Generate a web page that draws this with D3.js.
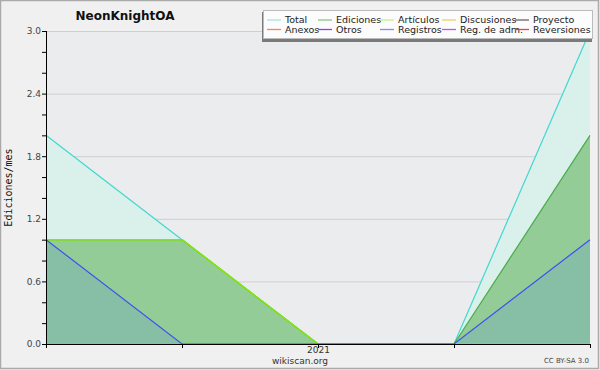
<!DOCTYPE html>
<html>
<head>
<meta charset="utf-8">
<script src="https://d3js.org/d3.v7.min.js"></script>
<style>
body { margin: 0; background: #fff; }
text { font-family: "DejaVu Sans", sans-serif; }
</style>
</head>
<body>
<svg id="chart" width="600" height="370"></svg>
<script>
// months around 2021, only the middle one gets a label
var months = ["2020-11", "2020-12", "2021-01", "2021-02", "2021-03"];
var tickLabels = ["", "", "2021", "", ""];
var total = [2, 1, 0, 0, 3];
var ediciones = [1, 1, 0, 0, 2];
var articulos = [1, 1, 0, 0, 0];
var registros = [1, 0, 0, 0, 1];
var yTicks = [0, 0.6, 1.2, 1.8, 2.4, 3.0];

var legendNames = ["Total", "Ediciones", "Artículos", "Discusiones", "Proyecto",
                   "Anexos", "Otros", "Registros", "Reg. de adm.", "Reversiones"];
var legendColors = ["#a8e4e0", "#88c888", "#c4ee88", "#f0d070", "#666666",
                    "#f08850", "#8848e0", "#8888f0", "#c850f0", "#e04848"];

var svg = d3.select("#chart");
var W = 600, H = 370;
var m = {left: 46, right: 10, top: 31, bottom: 26};

// page background + frame
svg.append("rect").attr("width", W).attr("height", H).attr("fill", "#f0f0f0");
svg.append("rect").attr("x", 0.5).attr("y", 0.5).attr("width", W - 2).attr("height", H - 2)
    .attr("fill", "none").attr("stroke", "#aaa").attr("stroke-width", 1.5);

var x = d3.scalePoint().domain(months).range([m.left, W - m.right]);
var y = d3.scaleLinear().domain([0, 3]).range([H - m.bottom, m.top]);

// plot area
svg.append("rect").attr("x", m.left).attr("y", m.top)
    .attr("width", W - m.right - m.left).attr("height", H - m.bottom - m.top)
    .attr("fill", "#ebecee");

// grid
svg.append("g").selectAll("line").data(yTicks.slice(1)).enter().append("line")
    .attr("x1", m.left).attr("x2", W - m.right)
    .attr("y1", function(d) { return y(d) + 0.5; })
    .attr("y2", function(d) { return y(d) + 0.5; })
    .attr("stroke", "#cfcfcf");

function area(vals) {
    return d3.area()
        .x(function(d, i) { return x(months[i]); })
        .y0(y(0))
        .y1(function(d) { return y(d); })(vals);
}
function line(vals) {
    return d3.line()
        .x(function(d, i) { return x(months[i]); })
        .y(function(d) { return y(d); })(vals);
}

svg.append("path").attr("d", area(total)).attr("fill", "#daf0ea");
svg.append("path").attr("d", area(ediciones)).attr("fill", "#94cc98");
svg.append("path").attr("d", area(registros)).attr("fill", "#86bfa5");

svg.append("path").attr("d", line(total)).attr("fill", "none").attr("stroke", "#40d8d0").attr("stroke-width", 1.2);
svg.append("path").attr("d", line(ediciones)).attr("fill", "none").attr("stroke", "#48ac48").attr("stroke-width", 1.2);
svg.append("path").attr("d", line(articulos)).attr("fill", "none").attr("stroke", "#8ae800").attr("stroke-width", 1.5);
svg.append("path").attr("d", line(registros)).attr("fill", "none").attr("stroke", "#3c50f0").attr("stroke-width", 1.2);

// y axis: minor ticks every 0.2, labels only on the major ones
var yAxis = svg.append("g").attr("transform", "translate(" + m.left + ",0)")
    .call(d3.axisLeft(y).tickValues(d3.range(0, 3.01, 0.2)).tickSize(4)
        .tickFormat(function(d) {
            var isMajor = yTicks.some(function(t) { return Math.abs(t - d) < 1e-6; });
            return isMajor ? d3.format(".1f")(d) : "";
        }));
yAxis.select(".domain").attr("stroke", "#000").attr("d", "M0.5," + m.top + "V" + (H - m.bottom));
yAxis.selectAll(".tick line").attr("stroke", "#000");
yAxis.selectAll(".tick text").attr("font-size", 9).attr("fill", "#444").attr("x", -5)
    .style("font-family", "DejaVu Sans, sans-serif");

// x axis
var xAxis = svg.append("g").attr("transform", "translate(0," + (H - m.bottom) + ")")
    .call(d3.axisBottom(x).tickSize(4).tickFormat(function(d, i) { return tickLabels[i]; }));
xAxis.select(".domain").attr("stroke", "#000").attr("d", "M" + m.left + ",0.5H" + (W - m.right));
xAxis.selectAll(".tick line").attr("stroke", "#000");
xAxis.selectAll(".tick text").attr("font-size", 9).attr("fill", "#333").attr("y", 3)
    .style("font-family", "DejaVu Sans, sans-serif");

// titles
svg.append("text").attr("x", 125).attr("y", 20).attr("text-anchor", "middle")
    .attr("font-size", 12).attr("font-weight", "bold").attr("fill", "#111").text("NeonKnightOA");
svg.append("text").attr("transform", "translate(12," + (y(1.5)) + ") rotate(-90)")
    .attr("text-anchor", "middle").attr("font-size", 10).attr("fill", "#111")
    .style("font-family", "DejaVu Sans Mono, monospace").text("Ediciones/mes");
svg.append("text").attr("x", 300).attr("y", 364).attr("text-anchor", "middle")
    .attr("font-size", 9).attr("fill", "#333").text("wikiscan.org");
svg.append("text").attr("x", 589).attr("y", 363).attr("text-anchor", "end")
    .attr("font-size", 7).attr("fill", "#444").text("CC BY-SA 3.0");

// legend
var lg = svg.append("g");
lg.append("rect").attr("x", 262).attr("y", 12).attr("width", 330).attr("height", 30).attr("fill", "#7a7a7a");
lg.append("rect").attr("x", 263.5).attr("y", 10.5).attr("width", 329).attr("height", 28)
    .attr("fill", "#fcfcfc").attr("stroke", "#bbb");
var colX = [267, 318, 380, 442, 515];
legendNames.forEach(function(name, i) {
    var cx = colX[i % 5], cy = i < 5 ? 19.5 : 29;
    lg.append("line").attr("x1", cx).attr("x2", cx + 14).attr("y1", cy + 0.5).attr("y2", cy + 0.5)
        .attr("stroke", legendColors[i]).attr("stroke-width", 1.3);
    lg.append("text").attr("x", cx + 18).attr("y", cy + 3.5).attr("font-size", 9.5)
        .attr("fill", "#222").text(name);
});
</script>
</body>
</html>
